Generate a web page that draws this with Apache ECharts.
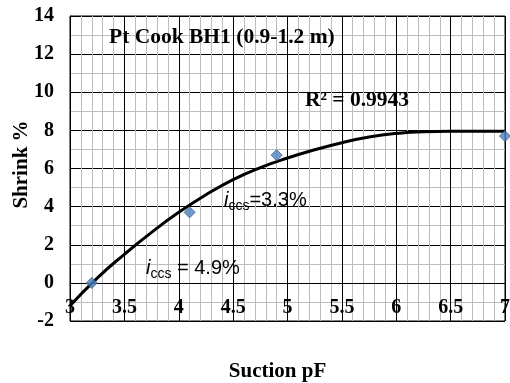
<!DOCTYPE html>
<html>
<head>
<meta charset="utf-8">
<script src="https://cdn.jsdelivr.net/npm/echarts@6/dist/echarts.min.js"></script>
<style>html,body{margin:0;padding:0;background:#fff;}#c{width:510px;height:383px;}</style>
</head>
<body>
<div id="c"></div>
<script>
// Measured data points (Suction pF, Shrink %)
var pointX = [3.2, 4.1, 4.9, 7.0];
var pointY = [0.0, 3.7, 6.7, 7.7];
// Trendline
var curveX = [3.0, 3.25, 3.5, 3.75, 4.0, 4.25, 4.5, 4.75, 5.0, 5.25, 5.5, 5.75, 6.0, 6.25, 6.5, 7.0];
var curveY = [-1.2, 0.25, 1.5, 2.65, 3.7, 4.62, 5.42, 6.05, 6.55, 6.98, 7.35, 7.65, 7.84, 7.93, 7.95, 7.95];
var xTicks = [3, 3.5, 4, 4.5, 5, 5.5, 6, 6.5, 7];
var yTicks = [-2, 0, 2, 4, 6, 8, 10, 12, 14];
var titleText = 'Pt Cook BH1 (0.9-1.2 m)';
var r2Text = 'R\u00b2 = 0.9943';

var serif = '"Liberation Serif", "Times New Roman", serif';
var sans = '"Liberation Sans", Arial, sans-serif';

var chart = echarts.init(document.getElementById('c'), null, {renderer: 'canvas'});
var option = {
  animation: false,
  backgroundColor: '#ffffff',
  grid: {left: 70, right: 5, top: 16, bottom: 62, containLabel: false, outerBoundsMode: 'none',
         show: true, borderColor: '#000', borderWidth: 1},
  title: {
    text: titleText, left: 104, top: 21,
    textStyle: {fontFamily: serif, fontWeight: 'bold', fontSize: 21.5, color: '#000'}
  },
  xAxis: {
    type: 'value', min: xTicks[0], max: xTicks[xTicks.length - 1], interval: 0.5,
    name: 'Suction pF', nameLocation: 'middle', nameGap: 40, nameMoveOverlap: false,
    nameTextStyle: {fontFamily: serif, fontWeight: 'bold', fontSize: 21, color: '#000', padding: [0, 20, 0, 0]},
    axisLine: {show: true, lineStyle: {color: '#000', width: 1}},
    axisTick: {show: false},
    axisLabel: {inside: true, margin: 3, fontFamily: serif, fontWeight: 'bold', fontSize: 20, color: '#000'},
    splitLine: {show: true, lineStyle: {color: '#000', width: 1}},
    minorTick: {show: false, splitNumber: 5},
    minorSplitLine: {show: true, lineStyle: {color: '#bdbdbd', width: 1}}
  },
  yAxis: {
    type: 'value', min: yTicks[0], max: yTicks[yTicks.length - 1], interval: 2,
    name: 'Shrink %', nameLocation: 'middle', nameGap: 38, nameRotate: 90, nameMoveOverlap: false,
    nameTextStyle: {fontFamily: serif, fontWeight: 'bold', fontSize: 21, color: '#000', padding: [0, 0, 0, 8]},
    axisLine: {show: true, lineStyle: {color: '#000', width: 1}},
    axisTick: {show: false},
    axisLabel: {margin: 16, fontFamily: serif, fontWeight: 'bold', fontSize: 20, color: '#000'},
    splitLine: {show: true, lineStyle: {color: '#000', width: 1}},
    minorTick: {show: false, splitNumber: 2},
    minorSplitLine: {show: true, lineStyle: {color: '#bdbdbd', width: 1}}
  },
  series: [
    {
      type: 'line', name: 'Trend', smooth: true, showSymbol: false, symbol: 'none',
      data: curveX.map(function (x, i) { return [x, curveY[i]]; }),
      lineStyle: {color: '#000', width: 3}, z: 3
    },
    {
      type: 'scatter', name: 'Shrink', symbol: 'diamond', symbolSize: 11,
      data: pointX.map(function (x, i) { return [x, pointY[i]]; }),
      itemStyle: {color: '#4F81BD', borderColor: '#385D8A', borderWidth: 1}, z: 4
    }
  ],
  graphic: [
    {
      type: 'text', left: 305, top: 89, z: 10,
      style: {text: r2Text, font: 'bold 21.5px ' + serif, fill: '#000'}
    },
    {
      type: 'text', left: 224, top: 190, z: 10,
      style: {
        text: '{i|i}{s|ccs}{t|=3.3%}', fill: '#000',
        rich: {
          i: {fontFamily: sans, fontStyle: 'italic', fontSize: 20, lineHeight: 22, verticalAlign: 'bottom'},
          s: {fontFamily: sans, fontSize: 14, lineHeight: 22, verticalAlign: 'bottom', padding: [0, 0, -3, 0]},
          t: {fontFamily: sans, fontSize: 20, lineHeight: 22, verticalAlign: 'bottom'}
        }
      }
    },
    {
      type: 'text', left: 146, top: 258, z: 10,
      style: {
        text: '{i|i}{s|ccs}{t| = 4.9%}', fill: '#000',
        rich: {
          i: {fontFamily: sans, fontStyle: 'italic', fontSize: 20, lineHeight: 22, verticalAlign: 'bottom'},
          s: {fontFamily: sans, fontSize: 14, lineHeight: 22, verticalAlign: 'bottom', padding: [0, 0, -3, 0]},
          t: {fontFamily: sans, fontSize: 20, lineHeight: 22, verticalAlign: 'bottom'}
        }
      }
    }
  ]
};
chart.setOption(option);
</script>
</body>
</html>
